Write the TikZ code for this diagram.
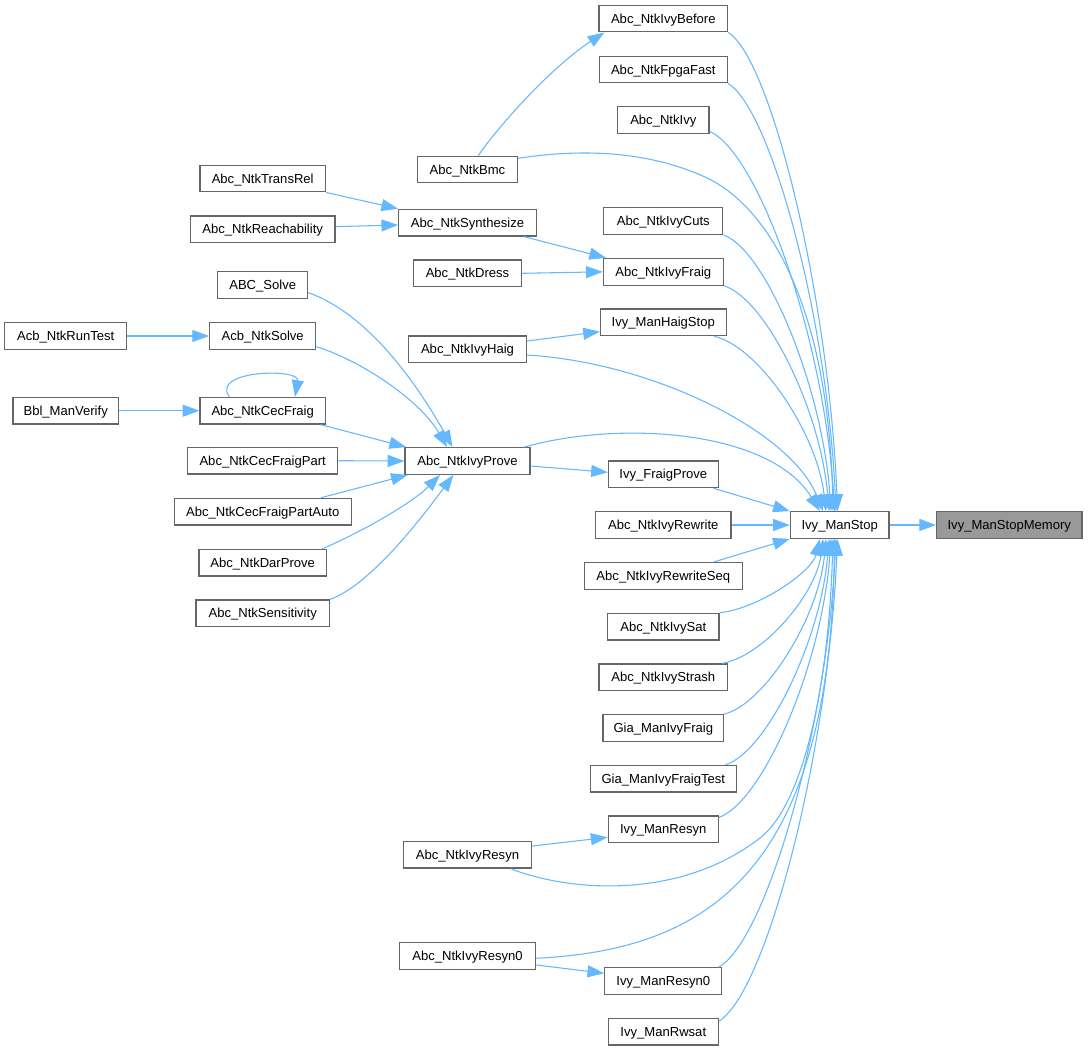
\documentclass[tikz,border=0pt]{standalone}
\usepackage{fontspec}
\setmainfont{Liberation Sans}
\usetikzlibrary{arrows.meta}
\definecolor{edgeblue}{HTML}{63B8FF}
\definecolor{boxborder}{HTML}{666666}
\definecolor{targetfill}{HTML}{999999}
\begin{document}
\begin{tikzpicture}[x=0.75pt,y=-0.75pt,
  nd/.style={draw=boxborder, fill=white, line width=0.9pt, minimum height=20pt, inner sep=0pt,
    text height=7pt, text depth=0pt,
    font=\fontsize{9.8}{11}\selectfont, text=black},
  target/.style={nd, fill=targetfill},
  e/.style={draw=edgeblue, line width=0.8pt, -{Triangle[length=12.5pt,width=9pt]}, fill=none}]
\useasboundingbox (0,0) rectangle (1088,1051);
\fill[white] (0,0) rectangle (1088,1051);

% column 5 and 4
\node[target, minimum width=109pt] (ManStopMemory) at (1009.3,525) {Ivy\_ManStopMemory};
\node[nd, minimum width=74pt] (ManStop) at (839.7,525) {Ivy\_ManStop};

% column 3
\node[nd, minimum width=96.5pt] (IvyBefore) at (663.3,18.5) {Abc\_NtkIvyBefore};
\node[nd, minimum width=96pt] (FpgaFast) at (663.3,69.5) {Abc\_NtkFpgaFast};
\node[nd, minimum width=68.5pt] (Ivy) at (663.3,120) {Abc\_NtkIvy};
\node[nd, minimum width=89.3pt] (IvyCuts) at (663.3,221) {Abc\_NtkIvyCuts};
\node[nd, minimum width=90pt] (IvyFraig) at (663.3,271.8) {Abc\_NtkIvyFraig};
\node[nd, minimum width=94.3pt] (HaigStop) at (663.3,322.3) {Ivy\_ManHaigStop};
\node[nd, minimum width=82.3pt] (FraigProve) at (663.3,474.3) {Ivy\_FraigProve};
\node[nd, minimum width=101.5pt] (IvyRewrite) at (663.3,525) {Abc\_NtkIvyRewrite};
\node[nd, minimum width=118.7pt] (RewriteSeq) at (663.3,576) {Abc\_NtkIvyRewriteSeq};
\node[nd, minimum width=83.5pt] (IvySat) at (663.3,626.7) {Abc\_NtkIvySat};
\node[nd, minimum width=96.5pt] (IvyStrash) at (663.3,677.3) {Abc\_NtkIvyStrash};
\node[nd, minimum width=90.5pt] (GiaIvyFraig) at (663.3,728) {Gia\_ManIvyFraig};
\node[nd, minimum width=109.5pt] (GiaIvyFraigTest) at (663.3,778.7) {Gia\_ManIvyFraigTest};
\node[nd, minimum width=82.7pt] (ManResyn) at (663.3,829.3) {Ivy\_ManResyn};
\node[nd, minimum width=87.8pt] (ManResyn0) at (663.3,981) {Ivy\_ManResyn0};
\node[nd, minimum width=82.5pt] (ManRwsat) at (663.3,1031.7) {Ivy\_ManRwsat};

% column 2
\node[nd, minimum width=75pt] (Bmc) at (467.5,169.5) {Abc\_NtkBmc};
\node[nd, minimum width=103.2pt] (Synthesize) at (467.5,222.7) {Abc\_NtkSynthesize};
\node[nd, minimum width=81pt] (Dress) at (467.5,273.3) {Abc\_NtkDress};
\node[nd, minimum width=88.1pt] (IvyHaig) at (467.5,349.3) {Abc\_NtkIvyHaig};
\node[nd, minimum width=93.8pt] (IvyProve) at (467.5,461) {Abc\_NtkIvyProve};
\node[nd, minimum width=96.3pt] (IvyResyn) at (467.5,854.7) {Abc\_NtkIvyResyn};
\node[nd, minimum width=102.3pt] (IvyResyn0) at (467.5,956) {Abc\_NtkIvyResyn0};

% column 1
\node[nd, minimum width=94.1pt] (TransRel) at (262.7,178.5) {Abc\_NtkTransRel};
\node[nd, minimum width=108.4pt] (Reachability) at (262.7,229.3) {Abc\_NtkReachability};
\node[nd, minimum width=67.4pt] (ABCSolve) at (262.7,285) {ABC\_Solve};
\node[nd, minimum width=79.5pt] (AcbSolve) at (262.7,336) {Acb\_NtkSolve};
\node[nd, minimum width=94.1pt] (CecFraig) at (262.7,410.7) {Abc\_NtkCecFraig};
\node[nd, minimum width=112.5pt] (CecFraigPart) at (262.7,460.7) {Abc\_NtkCecFraigPart};
\node[nd, minimum width=132.8pt] (CecFraigPartAuto) at (262.7,511.7) {Abc\_NtkCecFraigPartAuto};
\node[nd, minimum width=95.5pt] (DarProve) at (262.7,562.7) {Abc\_NtkDarProve};
\node[nd, minimum width=100.2pt] (Sensitivity) at (262.7,613.3) {Abc\_NtkSensitivity};

% column 0
\node[nd, minimum width=91.5pt] (RunTest) at (65.7,336) {Acb\_NtkRunTest};
\node[nd, minimum width=79.2pt] (BblVerify) at (65.7,410.7) {Bbl\_ManVerify};

% edges into Ivy_ManStop from above
\draw[e] (IvyBefore.south east) .. controls (772,60) and (829,300) .. ([xshift=-1.6pt]ManStop.north);
\draw[e] (FpgaFast.south east) .. controls (770.8,108.4) and (827.3,318.7) .. ([xshift=-2.8pt]ManStop.north);
\draw[e] ([yshift=2pt]Ivy.south east) .. controls (759.2,153.6) and (824.5,340.3) .. ([xshift=-3.9pt]ManStop.north);
\draw[e] (IvyCuts.south east) .. controls (766,250) and (822.3,386.4) .. ([xshift=-6.5pt]ManStop.north);
\draw[e] (IvyFraig.south east) .. controls (765.6,298.6) and (820.5,409.7) .. ([xshift=-8pt]ManStop.north);
\draw[e] ([xshift=-9.5pt]HaigStop.south east) .. controls (758.4,346.3) and (817,432.5) .. ([xshift=-10.3pt]ManStop.north);
\draw[e] ([yshift=-2pt]Bmc.north east) .. controls (580,149) and (645,150) .. (705,177)
   .. controls (765,204) and (828,300) .. ([xshift=-5pt]ManStop.north);
\draw[e] ([yshift=-4.3pt]IvyHaig.east) .. controls (650,362) and (790,430) .. ([xshift=-12.5pt]ManStop.north);
\draw[e] ([xshift=-4.7pt]IvyProve.north east) .. controls (620,420) and (770,430) .. ([xshift=-14.8pt]ManStop.north);

% edges into Ivy_ManStop from below
\draw[e] (IvySat.north east) .. controls (758,608.8) and (811.7,572) .. ([xshift=-14.8pt]ManStop.south);
\draw[e] ([xshift=-4.5pt]IvyStrash.north east) .. controls (762.6,656.5) and (815.8,594.9) .. ([xshift=-12.5pt]ManStop.south);
\draw[e] (GiaIvyFraig.north east) .. controls (764.6,704.1) and (818.7,617.7) .. ([xshift=-10.3pt]ManStop.south);
\draw[e] ([xshift=-8.5pt]GiaIvyFraigTest.north east) .. controls (766.6,751.7) and (820.7,640.5) .. ([xshift=-8pt]ManStop.south);
\draw[e] ([yshift=-1.5pt]ManResyn.north east) .. controls (763.4,801.2) and (822,664.2) .. ([xshift=-6.5pt]ManStop.south);
\draw[e] ([xshift=-16.3pt]IvyResyn.south east) .. controls (570,892) and (680,900) .. (760,838)
   .. controls (800,807) and (828,700) .. ([xshift=-5pt]ManStop.south);
\draw[e] ([yshift=-1.7pt]IvyResyn0.east) .. controls (700,950) and (830,880) .. ([xshift=-3.9pt]ManStop.south);
\draw[e] ([xshift=-2.8pt]ManResyn0.north east) .. controls (765.2,941.9) and (826.6,731.5) .. ([xshift=-2.8pt]ManStop.south);
\draw[e] ([yshift=-2.5pt]ManRwsat.north east) .. controls (766,992.7) and (828,755.8) .. ([xshift=-1.6pt]ManStop.south);

% straight edges into Ivy_ManStop and out of it
\draw[e] ([xshift=-4pt]FraigProve.south east) -- (ManStop.north west);
\draw[e] (IvyRewrite.east) -- (ManStop.west);
\draw[e] ([xshift=-22.2pt]RewriteSeq.north east) -- (ManStop.south west);
\draw[e] (ManStop.east) -- (ManStopMemory.west);

% column 2 -> column 3
\draw[e] ([xshift=8.1pt]Bmc.north) .. controls (497,128) and (550,68) .. ([xshift=4.5pt]IvyBefore.south west);
\draw[e] ([xshift=-9.75pt]Synthesize.south east) -- ([xshift=2.5pt]IvyFraig.north west);
\draw[e] (Dress.east) -- (IvyFraig.west);
\draw[e] ([yshift=6.2pt]IvyHaig.east) -- ([yshift=-7pt]HaigStop.west);
\draw[e] ([yshift=-3.75pt]IvyProve.east) -- ([yshift=1.5pt]FraigProve.west);
\draw[e] ([yshift=6.5pt]IvyResyn.east) -- ([yshift=-6pt]ManResyn.west);
\draw[e] ([yshift=-6.75pt]IvyResyn0.east) -- ([yshift=5.8pt]ManResyn0.west);

% column 1 -> column 2
\draw[e] (TransRel.south east) -- (Synthesize.north west);
\draw[e] ([yshift=2pt]Reachability.east) -- ([yshift=-1.7pt]Synthesize.west);
\draw[e] ([yshift=-5.8pt]ABCSolve.east) .. controls (345,305) and (395,345) .. ([xshift=-11.25pt]IvyProve.north);
\draw[e] ([yshift=-8pt]AcbSolve.east) .. controls (360,360) and (420,400) .. ([xshift=-15.4pt]IvyProve.north);
\draw[e] ([xshift=-4.1pt]CecFraig.south east) -- ([xshift=1.3pt]IvyProve.north west);
\draw[e] (CecFraigPart.east) -- (IvyProve.west);
\draw[e] ([xshift=-23.25pt]CecFraigPartAuto.north east) -- ([xshift=2.5pt]IvyProve.south west);
\draw[e] ([xshift=-3.5pt]DarProve.north east) .. controls (355,535) and (410,505) .. ([xshift=-20.6pt]IvyProve.south);
\draw[e] (Sensitivity.north east) .. controls (370,585) and (420,520) .. ([xshift=-10.6pt]IvyProve.south);

% column 0 -> column 1
\draw[e] (RunTest.east) -- (AcbSolve.west);
\draw[e] (BblVerify.east) -- (CecFraig.west);
\draw[e] ([xshift=-25pt]CecFraig.north) .. controls (210,370) and (300,368) .. ([xshift=24.2pt]CecFraig.north);
\end{tikzpicture}
\end{document}
